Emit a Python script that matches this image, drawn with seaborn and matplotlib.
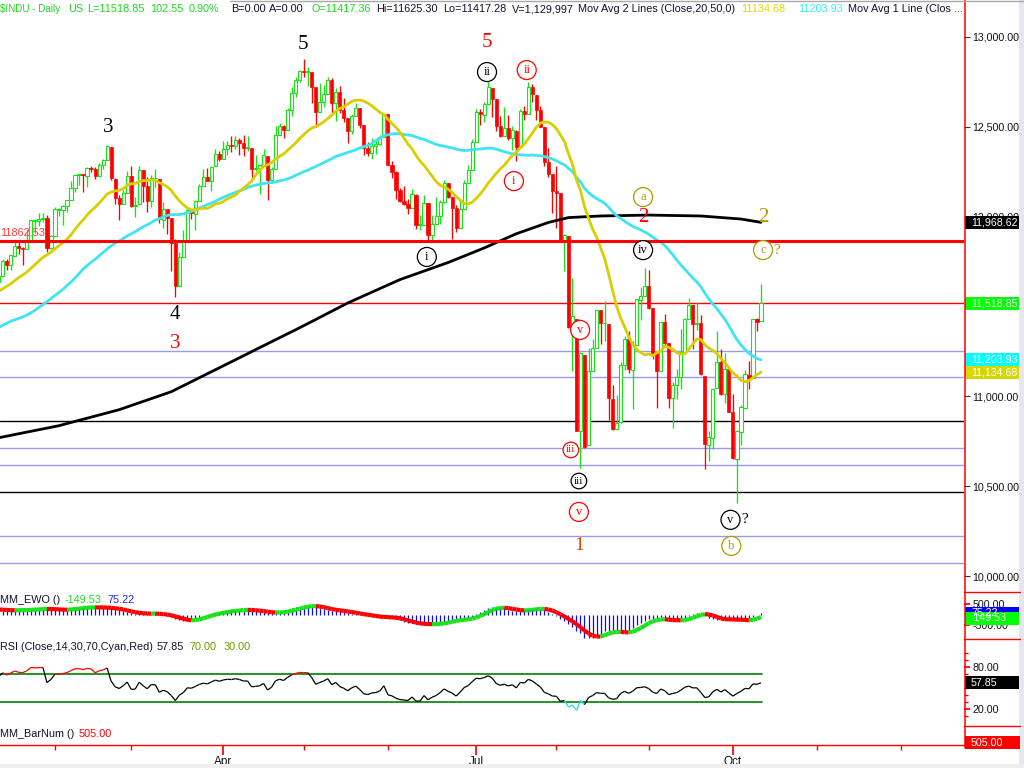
import numpy as np
import pandas as pd
import matplotlib
matplotlib.use("Agg")
import matplotlib.pyplot as plt
import matplotlib.transforms as mtrans
from matplotlib.collections import LineCollection
from matplotlib.lines import Line2D
from matplotlib.patches import Rectangle
import seaborn as sns

sns.set_theme(style="white")
plt.rcParams['font.family'] = ['Liberation Sans', 'DejaVu Sans']

# ---------------- data ----------------
# closes used only to warm up the indicators (Nov 1 2010 .. Jan 10 2011)
hist_close = [11124.62, 11188.72, 11215.13, 11434.84, 11444.08, 11406.84, 11346.75, 11357.04, 11283.10, 11192.58,
              11201.97, 11023.50, 11007.88, 11181.23, 11203.55, 11178.58, 11036.37, 11187.28, 11092.00, 11052.49,
              11006.02,
              11255.78, 11362.41, 11382.09, 11362.19, 11359.16, 11372.48, 11370.06, 11410.32, 11428.56, 11476.54,
              11457.47, 11499.25, 11491.91, 11478.13, 11533.16, 11559.49, 11573.49, 11555.03, 11575.54, 11585.38,
              11569.71, 11577.51,
              11670.75, 11691.18, 11722.89, 11697.31, 11674.76, 11637.45]

# daily bars Jan 11 2011 .. Oct 12 2011
opens = [11638, 11672, 11754, 11732, 11783, 11837, 11824, 11823, 11873, 11977, 11977, 11986, 11990, 11824,
         11892, 12040, 12040, 12062, 12092, 12161, 12233, 12238, 12227, 12273, 12267, 12227, 12287, 12318, 12389, 12211, 12105, 12069, 12131,
         12226, 12057, 12068, 12258, 12171, 12090, 12213, 12211, 11983, 12044, 11991, 11853, 11614, 11777, 11860, 12036, 12017, 12087, 12171, 12221, 12198, 12280, 12351,
         12321, 12377, 12399, 12395, 12426, 12409, 12381, 12380, 12264, 12269, 12285, 12340, 12202, 12268, 12453, 12505, 12481, 12595, 12691, 12763,
         12811, 12806, 12806, 12721, 12585, 12638, 12685, 12760, 12630, 12695, 12594, 12547, 12479, 12561, 12604, 12511, 12381, 12355, 12394, 12402, 12443,
         12569, 12290, 12247, 12151, 12090, 12069, 12049, 12123, 11952, 11954, 12074, 11897, 11962, 12003, 12081, 12189, 12108, 12049, 11935, 12043, 12190, 12262,
         12415, 12582, 12568, 12626, 12717, 12654, 12505, 12447, 12491, 12437, 12477, 12388, 12587, 12572, 12722, 12680, 12592, 12500, 12302, 12239,
         12144, 12131, 11867, 11894, 11384, 11433, 10810, 11228, 10730, 11143, 11269, 11482, 11406, 11402, 10985, 10819, 10855, 11176, 11320, 11149, 11286, 11539, 11560,
         11614, 11492, 11240, 11140, 11414, 11295, 10992, 11061, 11106, 11247, 11433, 11508, 11402, 11409, 11116, 10731, 10771, 11045, 11191, 11013, 11152,
         10912, 10650, 10803, 10937, 11121, 11104, 11433, 11417.36]
highs = [11731, 11766, 11766, 11788, 11858, 11862, 11830, 11925, 11981, 11983, 12020, 12022, 12012, 11896,
         12052, 12050, 12067, 12093, 12201, 12234, 12240, 12240, 12276, 12284, 12276, 12300, 12320, 12392, 12389, 12213, 12119, 12151, 12254,
         12284, 12108, 12283, 12258, 12221, 12230, 12264, 12211, 12082, 12044, 11991, 11874, 11802, 11927, 12056, 12039, 12093, 12182, 12267, 12270, 12284, 12376, 12368,
         12420, 12420, 12450, 12451, 12440, 12454, 12450, 12380, 12343, 12294, 12374, 12340, 12276, 12506, 12523, 12509, 12606, 12720, 12778, 12819,
         12876, 12831, 12807, 12722, 12745, 12731, 12780, 12770, 12716, 12725, 12661, 12549, 12571, 12632, 12605, 12511, 12414, 12436, 12430, 12453, 12570,
         12569, 12311, 12255, 12161, 12170, 12096, 12155, 12124, 12007, 12118, 12075, 12011, 12111, 12094, 12206, 12190, 12108, 12063, 12087, 12203, 12289, 12434,
         12599, 12598, 12636, 12753, 12717, 12654, 12563, 12609, 12566, 12503, 12480, 12599, 12615, 12751, 12736, 12680, 12615, 12500, 12382, 12239,
         12284, 12131, 11905, 11894, 11657, 11433, 11245, 11228, 11270, 11322, 11483, 11483, 11531, 11402, 11064, 11010, 11189, 11335, 11362, 11311, 11540, 11608, 11716,
         11704, 11492, 11240, 11415, 11457, 11295, 11082, 11154, 11376, 11434, 11545, 11508, 11526, 11454, 11116, 10807, 11046, 11362, 11264, 11240, 11152,
         11011, 10815, 10952, 11145, 11199, 11433, 11436, 11625.30]
lows = [11635, 11672, 11705, 11703, 11783, 11795, 11732, 11819, 11866, 11909, 11951, 11972, 11803, 11822,
        11892, 12006, 11954, 12025, 12092, 12137, 12178, 12140, 12168, 12247, 12212, 12227, 12266, 12317, 12202, 12071, 11983, 12069, 12131,
        12053, 12000, 12068, 12081, 12024, 12053, 12168, 11966, 11936, 11905, 11696, 11555, 11614, 11777, 11860, 11988, 11928, 12087, 12171, 12197, 12143, 12280, 12309,
        12321, 12343, 12362, 12376, 12346, 12338, 12365, 12208, 12253, 12129, 12280, 12093, 12186, 12268, 12452, 12440, 12481, 12560, 12665, 12750,
        12778, 12730, 12634, 12498, 12583, 12608, 12685, 12579, 12530, 12575, 12527, 12411, 12458, 12559, 12491, 12341, 12337, 12323, 12349, 12400, 12443,
        12285, 12213, 12096, 12081, 12065, 12016, 12048, 11929, 11926, 11954, 11862, 11863, 11962, 11958, 12079, 12104, 11874, 11914, 11935, 12043, 12189, 12262,
        12414, 12513, 12525, 12626, 12555, 12479, 12442, 12447, 12426, 12371, 12311, 12388, 12540, 12570, 12637, 12540, 12497, 12283, 12219, 12018,
        11936, 11866, 11700, 11383, 11139, 10810, 10604, 10711, 10730, 11143, 11269, 11294, 11308, 10866, 10811, 10819, 10854, 11147, 11128, 10930, 11286, 11425, 11560,
        11488, 11206, 10933, 11140, 11283, 10933, 10824, 10986, 11040, 11247, 11433, 11262, 11367, 11120, 10597, 10640, 10709, 11045, 11006, 10962, 10911,
        10654, 10404, 10731, 10937, 11040, 11104, 11363, 11417.28]
closes = [11671.88, 11755.44, 11731.90, 11787.38, 11837.93, 11825.29, 11822.80, 11871.84, 11980.52, 11977.19, 11985.44, 11989.83, 11823.70, 11891.93,
          12040.16, 12041.97, 12062.26, 12092.15, 12161.63, 12233.15, 12239.89, 12229.29, 12273.26, 12268.19, 12226.64, 12288.17, 12318.14, 12391.25, 12212.79, 12105.78, 12068.50, 12130.45, 12226.34,
          12058.02, 12066.80, 12258.20, 12169.88, 12090.03, 12214.38, 12213.09, 11984.61, 12044.40, 11993.16, 11855.42, 11613.30, 11774.59, 11858.52, 12036.53, 12018.63, 12086.02, 12170.56, 12220.59, 12197.88, 12279.01, 12350.61, 12319.73,
          12376.72, 12400.03, 12393.90, 12426.75, 12409.49, 12380.05, 12381.11, 12263.58, 12270.99, 12285.15, 12341.83, 12201.59, 12266.75, 12453.54, 12505.99, 12479.88, 12595.37, 12690.96, 12763.31, 12810.54,
          12807.36, 12807.51, 12723.58, 12584.17, 12638.74, 12684.68, 12760.36, 12630.03, 12695.92, 12595.75, 12548.37, 12479.58, 12560.18, 12605.32, 12512.04, 12381.26, 12356.21, 12394.66, 12402.76, 12441.58, 12569.79,
          12290.14, 12248.55, 12151.26, 12089.96, 12070.81, 12048.94, 12124.36, 11951.91, 11952.97, 12076.11, 11897.27, 11961.52, 12004.36, 12080.38, 12190.01, 12109.67, 12050.00, 11934.58, 12043.56, 12188.69, 12261.42, 12414.34,
          12582.77, 12569.87, 12626.02, 12719.49, 12657.20, 12505.76, 12446.88, 12491.61, 12437.12, 12479.73, 12385.16, 12587.42, 12571.91, 12724.41, 12681.16, 12592.80, 12501.30, 12302.55, 12240.11, 12143.24,
          12132.49, 11866.62, 11896.44, 11383.68, 11444.61, 10809.85, 11239.77, 10719.94, 11143.31, 11269.02, 11482.90, 11405.93, 11410.21, 10990.58, 10817.65, 10854.65, 11176.76, 11320.71, 11149.82, 11284.54, 11539.25, 11559.95, 11613.53,
          11493.57, 11240.26, 11139.30, 11414.86, 11295.81, 10992.13, 11061.12, 11105.85, 11246.73, 11433.18, 11509.09, 11401.01, 11408.66, 11124.84, 10733.83, 10771.48, 11043.86, 11190.69, 11010.90, 11153.98, 10913.38,
          10655.30, 10808.71, 10939.95, 11123.33, 11103.12, 11433.18, 11416.30, 11518.85]
last_volume = 1129997

# 200-day moving average (bar index, value)
ma200_idx = [0, 15, 30, 43, 50, 60, 65, 75, 87, 100, 112, 121, 129, 137, 142, 150, 162, 175, 185, 190]
ma200_val = [10770, 10837, 10926, 11026, 11104, 11215, 11271, 11382, 11520, 11650, 11745, 11826, 11905, 11968,
             11995, 12004, 12009, 12004, 11987, 11968.62]

# horizontal levels
red_level = 11862.53
lavender_levels = [11254, 11106, 10713, 10617, 10223, 10071]
black_levels = [10861, 10466]

# indicator readouts shown in the panels
ewo_readout = -149.53
ewo_readout2 = 75.22
rsi_readout = 57.85
barnum_readout = 505.00

# axis tick values
price_ticks = [10000, 10500, 11000, 12000, 12500, 13000]
ewo_ticks = [-500, 500]
rsi_major = [20, 80]
rsi_minor = [10, 30, 40, 50, 60, 70, 90, 100]

# month ticks (bar index of first trading day)
month_ticks = [14, 33, 56, 76, 97, 119, 139, 162, 183, 204, 225]
month_names = ["Feb", "Mar", "Apr", "May", "Jun", "Jul", "Aug", "Sep", "Oct", "Nov", "Dec"]
quarter_months = ["Apr", "Jul", "Oct"]

# ---------------- indicators ----------------
o = np.array(opens, float); h = np.array(highs, float); l = np.array(lows, float); c = np.array(closes, float)
n = len(c)
xs = np.arange(n)
allc = pd.Series(hist_close + closes, dtype=float)
nh = len(hist_close)
ma20 = allc.rolling(20).mean().to_numpy()[nh:]
ma50 = allc.rolling(50).mean().to_numpy()[nh:]
ewo_full = allc.rolling(5).mean() - allc.rolling(35).mean()
ewo = ewo_full.to_numpy()[nh:]
ewo_line = ewo_full.rolling(5).mean().to_numpy()[nh:]
d = allc.diff()
ag = d.clip(lower=0).ewm(alpha=1/14, adjust=False).mean()
al = (-d.clip(upper=0)).ewm(alpha=1/14, adjust=False).mean()
rsi = (100 - 100 / (1 + ag / al)).to_numpy()[nh:]

# ---------------- figure ----------------
W, H = 1024, 768
fig = plt.figure(figsize=(W / 100, H / 100), dpi=100)
fig.patch.set_facecolor('white')

def fax(x0, y0, x1, y1):
    return fig.add_axes([x0 / W, 1 - y1 / H, (x1 - x0) / W, (y1 - y0) / H])

PR = 964
ax = fax(0, 0, PR, 590)
ax_ewo = fax(0, 592, PR, 639)
ax_rsi = fax(0, 641, PR, 725)
ax_bn = fax(0, 727, PR, 745)
XL = (0.3, 240.6)
for a in (ax, ax_ewo, ax_rsi, ax_bn):
    a.set_xlim(*XL)
    a.set_facecolor('none')
    for s in a.spines.values():
        s.set_visible(False)
    a.tick_params(bottom=False, labelbottom=False, left=False, labelleft=False, right=False, labelright=False)
    a.grid(False)

GREEN = '#17E317'
RED = '#FF0000'
YEL = '#D8CE00'
CYAN = '#3FE4F4'
LAV = '#9A9AF0'
OLIVE = '#AE9A00'

ax.set_ylim(9922.6, 13205.9)

# horizontal levels
for lv in lavender_levels:
    ax.axhline(lv, color=LAV, lw=1.0, zorder=1)
for lv in black_levels:
    ax.axhline(lv, color='black', lw=1.0, zorder=1)
ax.axhline(c[-1], color=RED, lw=1.0, zorder=1)
ax.axhline(red_level, color=RED, lw=2.2, zorder=6)
ax.text(XL[0], red_level + 48, f"{red_level:.2f}", color='#FF3B3B', fontsize=7.8, va='center', ha='left', zorder=7)

# candles
up = c >= o
wick_col = np.where(up, GREEN, RED)
ax.vlines(xs, l, h, colors=wick_col, lw=0.95, zorder=2)
bot = np.minimum(o, c)
hgt = np.maximum(np.abs(c - o), 5)
ax.bar(xs[up], hgt[up], bottom=bot[up], width=0.78, facecolor='white', edgecolor=GREEN, linewidth=0.8, zorder=3)
ax.bar(xs[~up], hgt[~up], bottom=bot[~up], width=0.78, color=RED, edgecolor=RED, linewidth=0.5, zorder=3)

# moving averages
sns.lineplot(x=np.array(ma200_idx), y=np.array(ma200_val), ax=ax, color='black', linewidth=2.0, zorder=4)
sns.lineplot(x=xs, y=ma50, ax=ax, color=CYAN, linewidth=2.0, zorder=5)
sns.lineplot(x=xs, y=ma20, ax=ax, color=YEL, linewidth=2.0, zorder=5)

# main right axis
ax.yaxis.tick_right()
ax.set_yticks(price_ticks)
ax.set_yticklabels([f"{t:,.2f}" for t in price_ticks])
ax.tick_params(axis='y', right=True, labelright=True, direction='out', length=4, width=0.8,
               color='#333333', labelcolor='#111111', labelsize=7.7, pad=2)

def to_data_h(a, px):
    y0, y1 = a.get_ylim()
    return px * (y1 - y0) / (a.get_position().height * H)

def rbox(a, val, text, fc, tc='white', hpx=13):
    tr = mtrans.blended_transform_factory(fig.transFigure, a.transData)
    hd = to_data_h(a, hpx)
    a.add_patch(Rectangle((965 / W, val - hd / 2), 55 / W, hd, transform=tr, facecolor=fc,
                          edgecolor='none', clip_on=False, zorder=20))
    a.text(971 / W, val, text, transform=tr, color=tc, fontsize=7.7, va='center', ha='left',
           clip_on=False, zorder=21)

rbox(ax, ma200_val[-1], f"{ma200_val[-1]:,.2f}", 'black')
rbox(ax, c[-1], f"{c[-1]:,.2f}", '#00FF00')
rbox(ax, ma50[-1], f"{ma50[-1]:,.2f}", '#00FFFF')
rbox(ax, ma20[-1], f"{ma20[-1]:,.2f}", '#D6D600')

# wave labels (text, bar index, price, color, circled, size)
labels = [
    ("3", 27.2, 12494, 'black', False, 15), ("4", 43.9, 11453, 'black', False, 15),
    ("3", 43.9, 11297, RED, False, 15), ("5", 75.8, 12961, 'black', False, 15),
    ("5", 121.7, 12972, RED, False, 15), ("ii", 121.7, 12805, 'black', True, 9),
    ("ii", 131.6, 12816, RED, True, 9), ("i", 128.4, 12198, RED, True, 9),
    ("i", 106.7, 11776, 'black', True, 9), ("a", 160.6, 12109, OLIVE, True, 9),
    ("2", 160.6, 11998, RED, False, 15), ("iv", 160.6, 11814, 'black', True, 9),
    ("2", 190.5, 11998, OLIVE, False, 15), ("c", 190.5, 11814, OLIVE, True, 9),
    ("v", 144.9, 11370, RED, True, 9), ("iii", 142.6, 10702, RED, True, 8),
    ("iii", 144.6, 10529, 'black', True, 8), ("v", 144.6, 10357, RED, True, 9),
    ("1", 144.6, 10173, '#D54A00', False, 14), ("v", 182.4, 10313, 'black', True, 9),
    ("b", 182.6, 10168, OLIVE, True, 9),
]
for t, xi, yv, col, circ, sz in labels:
    kw = dict(color=col, fontsize=sz, ha='center', va='center', family='Liberation Serif', zorder=12)
    if circ:
        kw['bbox'] = dict(boxstyle='circle,pad=0.28', fc='white', ec=col, lw=0.9)
    ax.text(xi, yv, t, **kw)
ax.text(193.9, 11814, "?", color=OLIVE, fontsize=11, ha='center', va='center', family='Liberation Serif', zorder=12)
ax.text(185.9, 10313, "?", color='black', fontsize=11, ha='center', va='center', family='Liberation Serif', zorder=12)

# ---------------- EWO panel ----------------
ax_ewo.set_ylim(-1143, 1095)
ax_ewo.vlines(xs, 0, ewo, colors='#1010D0', lw=0.9, zorder=2)
segs = [[(xs[i], ewo_line[i]), (xs[i + 1], ewo_line[i + 1])] for i in range(n - 1)]
cols = [GREEN if ewo_line[i + 1] >= ewo_line[i] else RED for i in range(n - 1)]
ax_ewo.add_collection(LineCollection(segs, colors=cols, linewidths=3.0, zorder=3, capstyle='butt'))
ax_ewo.yaxis.tick_right()
ax_ewo.set_yticks(ewo_ticks)
ax_ewo.set_yticklabels([f"{t:.2f}" for t in ewo_ticks])
ax_ewo.tick_params(axis='y', right=True, labelright=True, direction='out', length=4, color=RED,
                   labelcolor='#111111', labelsize=7.7, pad=2)
rbox(ax_ewo, ewo_readout2, f"{ewo_readout2:.2f}", '#0000FF')
rbox(ax_ewo, ewo_readout, f"{ewo_readout:.2f}", '#00FF00')

# ---------------- RSI panel ----------------
ax_rsi.set_ylim(-2.4, 117.6)
xm = (190.3 - XL[0]) / (XL[1] - XL[0])
ax_rsi.axhline(70, color='#008000', lw=1.2, xmax=xm, zorder=1)
ax_rsi.axhline(30, color='#008000', lw=1.2, xmax=xm, zorder=1)
rsegs = [[(xs[i], rsi[i]), (xs[i + 1], rsi[i + 1])] for i in range(n - 1)]
rcols = []
for i in range(n - 1):
    m = (rsi[i] + rsi[i + 1]) / 2
    rcols.append(RED if m > 70 else ('#22D8F0' if m < 30 else 'black'))
ax_rsi.add_collection(LineCollection(rsegs, colors=rcols, linewidths=0.9, zorder=3))
ax_rsi.yaxis.tick_right()
ax_rsi.set_yticks(rsi_major)
ax_rsi.set_yticklabels([f"{t:.2f}" for t in rsi_major])
ax_rsi.set_yticks(rsi_minor, minor=True)
ax_rsi.tick_params(axis='y', which='both', right=True, labelright=True, direction='out', color=RED,
                   labelcolor='#111111', labelsize=7.7, pad=2)
ax_rsi.tick_params(axis='y', which='major', length=4)
ax_rsi.tick_params(axis='y', which='minor', length=3)
rbox(ax_rsi, rsi_readout, f"{rsi_readout:.2f}", 'black')

# ---------------- BarNum panel / x axis ----------------
ax_bn.set_ylim(0, 1)
ax_bn.spines['bottom'].set_visible(True)
ax_bn.spines['bottom'].set_color(RED)
ax_bn.spines['bottom'].set_linewidth(1.0)
maj = [t for t, m in zip(month_ticks, month_names) if m in quarter_months]
mino = [t for t, m in zip(month_ticks, month_names) if m not in quarter_months]
ax_bn.set_xticks(maj)
ax_bn.set_xticklabels(quarter_months)
ax_bn.set_xticks(mino, minor=True)
ax_bn.tick_params(axis='x', which='both', bottom=True, labelbottom=True, direction='out', color=RED,
                  labelcolor='#111111', labelsize=8.5, pad=1)
ax_bn.tick_params(axis='x', which='major', length=7)
ax_bn.tick_params(axis='x', which='minor', length=3.5)
trf = fig.transFigure
fig.add_artist(Rectangle((965 / W, 1 - 749 / H), 55 / W, 13 / H, transform=trf, facecolor=RED, edgecolor='none', zorder=20))
fig.text(971 / W, 1 - 742.5 / H, f"{barnum_readout:.2f}", color='white', fontsize=7.7, va='center', ha='left', zorder=21)

# ---------------- frame lines & strips ----------------
fig.add_artist(Line2D([964.5 / W] * 2, [1 - 748 / H, 1], transform=trf, color=RED, lw=1.1, zorder=15))
for yy in (592, 639, 726):
    fig.add_artist(Line2D([964 / W, 1020 / W], [1 - yy / H] * 2, transform=trf, color=RED, lw=1.0, zorder=15))
fig.add_artist(Line2D([230 / W, 1], [1 - 0.6 / H] * 2, transform=trf, color='#A8A8A8', lw=1.0, zorder=15))
fig.add_artist(Rectangle((1019 / W, 0), 5 / W, 1, transform=trf, facecolor='#E6E6EE', edgecolor='none', zorder=14))
fig.add_artist(Rectangle((0, 0), 1, 4 / H, transform=trf, facecolor='#EFEFEF', edgecolor='none', zorder=14))

# ---------------- header & panel titles ----------------
chg = c[-1] - c[-2]
pct = chg / c[-2] * 100
DARK = '#101030'
HG = '#1ED81E'
header = [
    (0, "$INDU - Daily", HG, 7.1), (68, "US", HG, 7.8), (87, f"L={c[-1]:.2f}", HG, 7.8), (150, f"{chg:.2f}", HG, 7.8),
    (189, f"{pct:.2f}%", HG, 7.8), (231, "B=0.00", DARK, 7.8), (269, "A=0.00", DARK, 7.8), (312, f"O={o[-1]:.2f}", HG, 7.8),
    (376, f"Hi={h[-1]:.2f}", DARK, 7.8), (443, f"Lo={l[-1]:.2f}", DARK, 7.8), (512, f"V={last_volume:,}", DARK, 7.8),
    (578, "Mov Avg 2 Lines (Close,20,50,0)", DARK, 7.8), (741, f"{ma20[-1]:.2f}", '#E2DA00', 7.8),
    (798, f"{ma50[-1]:.2f}", '#3CEAF8', 7.8), (848, "Mov Avg 1 Line (Clos ...", DARK, 7.8),
]
for xp, t, col, fs in header:
    fig.text(xp / W, 1 - 9 / H, t, color=col, fontsize=fs, ha='left', va='center', zorder=22)

def title_row(ypx, items):
    for xp, t, col in items:
        fig.text(xp / W, 1 - ypx / H, t, color=col, fontsize=7.8, ha='left', va='center', zorder=22)

title_row(600, [(0, "MM_EWO ()", DARK), (65, f"{ewo_readout:.2f}", HG), (108, f"{ewo_readout2:.2f}", '#2020FF')])
title_row(647, [(0, "RSI (Close,14,30,70,Cyan,Red)", DARK), (157, f"{rsi_readout:.2f}", DARK),
                (190, "70.00", '#6E9A00'), (224, "30.00", '#6E9A00')])
title_row(734, [(0, "MM_BarNum ()", DARK), (79, f"{barnum_readout:.2f}", RED)])

fig.savefig("out.png", dpi=100, facecolor='white')
